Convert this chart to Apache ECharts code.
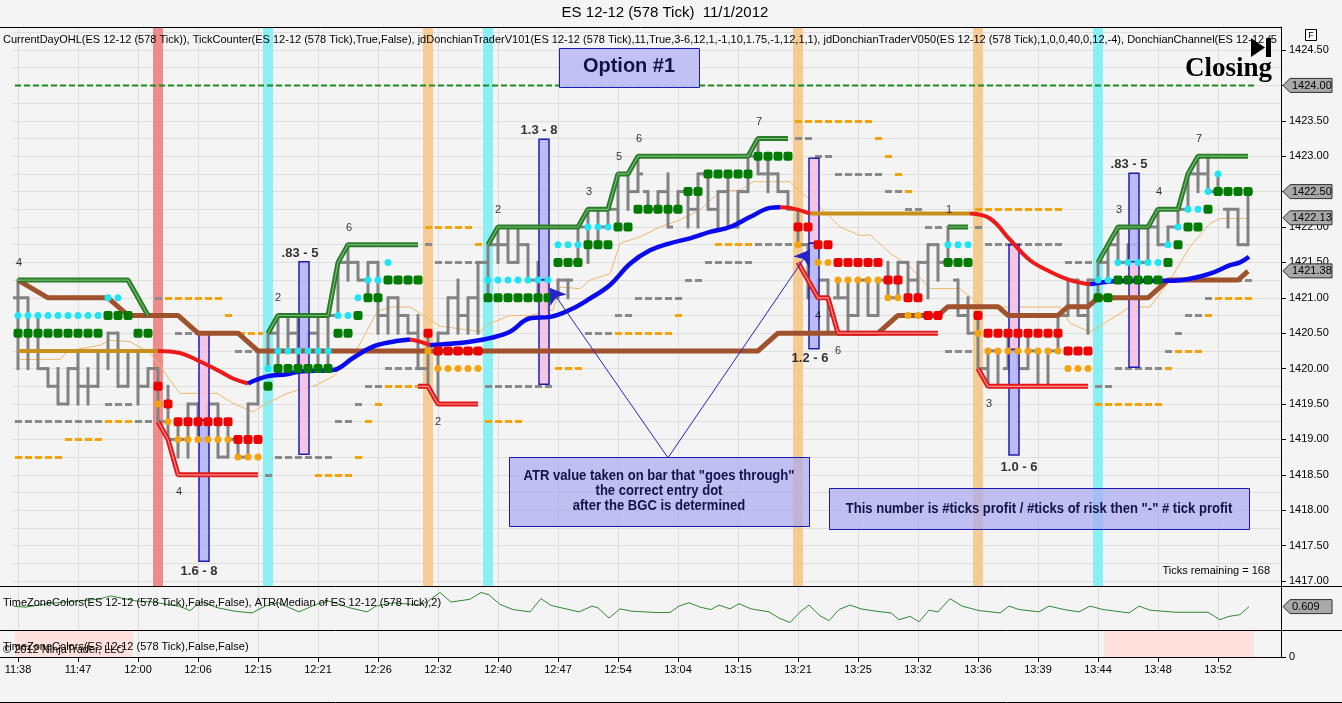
<!DOCTYPE html>
<html><head><meta charset="utf-8">
<script src="https://cdn.jsdelivr.net/npm/echarts@6/dist/echarts.min.js"></script>
<style>html,body{margin:0;padding:0;background:#f4f4f4;}#c{width:1342px;height:703px;}</style>
</head><body><div id="c"></div>
<script>
// ---------------- DATA ----------------
const timeLabels = ['11:38','11:47','12:00','12:06','12:15','12:21','12:26','12:32','12:40','12:47','12:54','13:04','13:15','13:21','13:25','13:32','13:36','13:39','13:44','13:48','13:52'];
const timeTickBars = [0,6,12,18,24,30,36,42,48,54,60,66,72,78,84,90,96,102,108,114,120];
const priceLabels = [1417.0,1417.5,1418.0,1418.5,1419.0,1419.5,1420.0,1420.5,1421.0,1421.5,1422.0,1422.5,1423.0,1423.5,1424.0,1424.5];
const priceGrid = [1417.0,1417.25,1417.5,1417.75,1418.0,1418.25,1418.5,1418.75,1419.0,1419.25,1419.5,1419.75,1420.0,1420.25,1420.5,1420.75,1421.0,1421.25,1421.5,1421.75,1422.0,1422.25,1422.5,1422.75,1423.0,1423.25,1423.5,1423.75,1424.0,1424.25,1424.5,1424.75];

// OHLC per 578-tick bar: [open, high, low, close]
const barOHLC = [
[1421.0,1421.25,1420.0,1421.0],[1421.0,1421.0,1420.0,1420.25],[1420.25,1420.75,1420.0,1420.0],[1420.0,1420.0,1419.75,1419.75],
[1419.75,1420.0,1419.5,1419.5],[1419.5,1420.0,1419.5,1420.0],[1420.0,1420.25,1419.5,1419.75],[1419.75,1420.0,1419.5,1419.75],
[1419.75,1420.25,1419.75,1420.25],[1420.25,1420.5,1420.0,1420.5],[1420.5,1420.5,1419.75,1419.75],[1419.75,1420.25,1419.75,1420.25],
[1420.25,1420.25,1419.5,1419.75],[1419.75,1420.0,1419.75,1420.0],[1420.0,1420.0,1419.25,1419.25],[1419.25,1419.75,1419.0,1419.0],
[1419.0,1419.25,1418.75,1419.0],[1419.0,1419.5,1418.75,1419.5],[1419.5,1419.5,1419.0,1419.0],[1419.0,1419.5,1419.0,1419.5],
[1419.5,1419.5,1418.75,1418.75],[1418.75,1419.25,1418.75,1419.0],[1419.0,1419.0,1418.75,1418.75],[1418.75,1419.5,1418.75,1419.5],
[1419.5,1420.25,1419.5,1420.25],[1420.25,1420.5,1420.0,1420.5],[1420.5,1420.75,1420.0,1420.25],[1420.25,1420.75,1420.25,1420.5],
[1420.5,1420.75,1420.0,1420.25],[1420.25,1420.5,1420.25,1420.5],[1420.5,1420.75,1420.0,1420.25],[1420.25,1420.75,1420.0,1420.75],
[1420.75,1421.5,1420.75,1421.5],[1421.5,1421.75,1421.25,1421.5],[1421.5,1421.5,1421.25,1421.25],[1421.25,1421.5,1421.0,1421.5],
[1421.5,1421.5,1420.5,1420.75],[1420.75,1421.0,1420.5,1421.0],[1421.0,1421.0,1420.5,1420.75],[1420.75,1420.75,1420.5,1420.5],
[1420.5,1420.75,1420.0,1420.0],[1420.0,1420.5,1419.75,1420.25],[1420.25,1420.5,1419.5,1420.5],[1420.5,1421.0,1420.5,1421.0],
[1421.0,1421.25,1420.5,1420.75],[1420.75,1421.0,1420.5,1421.0],[1421.0,1421.5,1420.5,1421.5],[1421.5,1421.75,1421.0,1421.75],
[1421.75,1422.0,1421.5,1421.75],[1421.75,1422.0,1421.5,1421.5],[1421.5,1422.0,1421.5,1421.75],[1421.75,1421.75,1421.25,1421.25],
[1421.25,1421.5,1421.0,1421.25],[1421.25,1421.25,1420.75,1421.0],[1421.0,1421.25,1421.0,1421.25],[1421.25,1421.25,1421.0,1421.25],
[1421.5,1422.0,1421.5,1422.0],[1422.0,1422.25,1421.5,1422.25],[1422.25,1422.25,1421.75,1422.0],[1422.0,1422.25,1422.0,1422.25],
[1422.25,1422.75,1422.0,1422.75],[1422.75,1422.75,1422.25,1422.5],[1422.5,1423.0,1422.5,1422.75],[1422.5,1422.5,1422.25,1422.25],
[1422.25,1422.5,1422.25,1422.5],[1422.5,1422.75,1422.0,1422.0],[1422.25,1422.5,1422.25,1422.5],[1422.5,1422.5,1422.0,1422.25],
[1422.25,1422.75,1422.0,1422.75],[1422.75,1422.75,1422.25,1422.25],[1422.25,1422.5,1422.0,1422.5],[1422.5,1422.75,1422.0,1422.0],
[1422.0,1422.5,1422.0,1422.5],[1422.5,1423.0,1422.5,1423.0],[1423.0,1423.25,1422.75,1422.75],[1422.75,1423.0,1422.5,1422.75],
[1422.75,1422.75,1422.5,1422.5],[1422.5,1422.5,1422.25,1422.25],[1422.25,1422.25,1421.75,1421.75],[1421.75,1421.75,1421.0,1421.0],
[1421.0,1421.25,1421.0,1421.25],[1421.25,1421.25,1420.5,1420.75],[1421.0,1421.25,1421.0,1421.0],[1421.0,1421.25,1420.5,1420.75],
[1420.75,1421.25,1420.75,1421.25],[1421.25,1421.25,1420.75,1420.75],[1420.75,1421.25,1420.75,1421.25],[1421.25,1421.5,1421.0,1421.0],
[1421.0,1421.5,1421.0,1421.5],[1421.5,1421.5,1421.0,1421.25],[1421.25,1421.5,1421.0,1421.5],[1421.5,1421.75,1421.0,1421.75],
[1421.75,1421.75,1421.25,1421.5],[1421.5,1422.0,1421.5,1421.5],[1421.25,1421.25,1420.75,1420.75],[1420.75,1421.0,1420.5,1420.5],
[1420.5,1420.75,1420.0,1420.0],[1420.0,1420.25,1419.75,1420.25],[1420.25,1420.25,1419.75,1419.75],[1420.0,1420.5,1420.0,1420.25],
[1420.25,1420.25,1420.0,1420.0],[1420.0,1420.5,1420.0,1420.25],[1420.25,1420.25,1419.75,1419.75],[1419.75,1420.25,1419.75,1420.25],
[1420.25,1420.75,1420.25,1420.75],[1420.75,1421.25,1420.75,1421.25],[1421.25,1421.25,1420.75,1420.75],[1420.75,1421.25,1420.5,1421.25],
[1421.25,1421.5,1421.0,1421.5],[1421.5,1421.75,1421.25,1421.75],[1421.75,1422.0,1421.5,1421.5],[1421.5,1421.75,1421.5,1421.75],
[1421.75,1422.0,1421.5,1421.5],[1421.5,1422.0,1421.5,1422.0],[1422.0,1422.25,1421.75,1421.75],[1421.75,1422.0,1421.75,1422.0],
[1422.0,1422.25,1422.0,1422.25],[1422.25,1422.75,1422.25,1422.75],[1422.75,1423.0,1422.5,1422.75],[1422.75,1423.0,1422.5,1422.5],
[1422.5,1422.75,1422.5,1422.5],[1422.25,1422.25,1422.0,1422.25],[1422.25,1422.25,1421.75,1421.75],[1421.75,1422.5,1421.75,1422.5]
];

// Donchian upper (green), middle (brown), lower (red) : [bar, price]
const donchianUpper = [
 [[0,1421.25],[11,1421.25],[13,1420.75]],
 [[25,1420.5],[26,1420.75],[31,1420.75],[32,1421.5],[33,1421.75],[40,1421.75]],
 [[47,1421.75],[48,1422.0],[56,1422.0],[57,1422.25],[59,1422.25],[60,1422.75],[61,1422.75],[62,1423.0],[73,1423.0],[74,1423.25],[77,1423.25]],
 [[93,1422.0],[95,1422.0]],
 [[108,1421.5],[110,1422.0],[113,1422.0],[114,1422.25],[116,1422.25],[117,1422.75],[118,1423.0],[123,1423.0]]
];
const donchianMid = [[0,1421.25],[3,1421.0],[9,1421.0],[11,1420.75],[16,1420.75],[18,1420.5],[22,1420.5],[24,1420.25],[74,1420.25],[76,1420.5],[86,1420.5],[88,1420.75],[92,1420.75],[93,1420.875],[98,1420.875],[99,1420.75],[104,1420.75],[105,1420.875],[107,1420.875],[108,1421.0],[113,1421.0],[115,1421.25],[122,1421.25],[123,1421.375]];
const donchianLower = [
 [[14,1419.25],[15,1419.0],[16,1418.5],[24,1418.5]],
 [[40,1419.75],[41,1419.75],[42,1419.5],[46,1419.5]],
 [[78,1421.5],[80,1421.0],[81,1421.0],[82,1420.5],[92,1420.5]],
 [[96,1420.0],[97,1419.75],[107,1419.75]]
];

// Trend average, by state: flat / falling / rising
const avgFlat = [
 [[0,1420.25],[14,1420.25]],
 [[79.2,1422.19],[95.2,1422.19]]
];
const avgFalling = [
 [[14,1420.25],[16.2,1420.22],[18.2,1420.10],[20.2,1419.96],[21.5,1419.86],[23,1419.79]],
 [[39.2,1420.41],[40.2,1420.38],[41.2,1420.33]],
 [[76.2,1422.28],[77.2,1422.27],[79.2,1422.19]],
 [[95.2,1422.19],[97.2,1422.12],[99.2,1421.82],[101.2,1421.53],[103.2,1421.37],[105.2,1421.25],[107.2,1421.19]]
];
const avgRising = [
 [[23,1419.79],[24.9,1419.89],[26.9,1419.92],[28.2,1419.96],[31.5,1419.98],[33.5,1420.15],[35.5,1420.31],[37.5,1420.38],[39.2,1420.41]],
 [[41.2,1420.33],[43.2,1420.35],[45.2,1420.38],[47.2,1420.43],[49.2,1420.52],[51.2,1420.71],[53.2,1420.73],[55.2,1420.83],[57.2,1420.99],[59.2,1421.18],[61.2,1421.48],[63.2,1421.67],[65.2,1421.77],[67.2,1421.84],[69.2,1421.93],[71.2,1422.0],[73.2,1422.14],[75.2,1422.27],[76.2,1422.28]],
 [[107.2,1421.19],[109.2,1421.23],[111.2,1421.24],[115.2,1421.24],[117.2,1421.27],[119.2,1421.34],[121.2,1421.46],[122.2,1421.5],[123.1,1421.58]]
];
const trailLine = [[0.2,1420.13],[4.2,1420.13],[5,1420.25],[8.2,1420.33],[9.2,1420.40],[11.2,1420.38],[13.2,1420.22],[14.2,1420.03],[16.2,1419.65],[19.9,1419.65],[21.5,1419.51],[23.5,1419.39],[24.9,1419.51],[26.9,1419.65],[29.9,1419.77],[31.5,1419.89],[33.5,1420.17],[35.9,1420.8],[37.2,1420.87],[39.2,1420.87],[41.2,1420.69],[42.2,1420.6],[46.2,1420.52],[47.2,1420.64],[49.2,1420.75],[51.2,1420.75],[53.5,1420.83],[54.2,1421.15],[56.2,1421.13],[57.2,1421.25],[59.2,1421.34],[60.2,1421.77],[62.2,1421.86],[64.2,1422.0],[66.2,1422.1],[68.2,1422.24],[70.2,1422.5],[72.2,1422.52],[73.5,1422.64],[77.2,1422.64],[78.2,1422.5],[80.2,1422.28],[82.2,1422.0],[84.2,1421.88],[85.2,1421.89],[87.2,1421.63],[89.2,1421.44],[91.2,1421.13],[94.2,1421.13],[96.2,1420.9],[98.2,1420.87],[104.2,1420.87],[105.2,1420.64],[107.2,1420.52],[109.2,1420.69],[111.2,1420.87],[113.2,1420.87],[115.2,1421.25],[117.2,1421.72],[119.2,1422.05],[120.2,1422.12],[122.9,1422.12]];

// Entry dots as runs [firstBar, lastBar, price]
const cyanDots = [[0,8,1420.75],[9,10,1421.0],[25,25,1420.0],[26,31,1420.25],[32,33,1420.75],[34,34,1421.0],[35,36,1421.25],[37,37,1421.5],[47,53,1421.25],[54,56,1421.75],[57,59,1422.0],[93,95,1421.75],[108,109,1421.25],[110,114,1421.5],[115,115,1421.75],[116,116,1422.0],[117,118,1422.25],[119,119,1422.5],[120,120,1422.75]];
const greenDots = [[0,8,1420.5],[9,11,1420.75],[12,13,1420.5],[25,25,1419.75],[26,31,1420.0],[32,33,1420.5],[34,34,1420.75],[35,36,1421.0],[37,40,1421.25],[47,53,1421.0],[54,56,1421.5],[57,59,1421.75],[60,61,1422.0],[62,66,1422.25],[67,68,1422.5],[69,73,1422.75],[74,77,1423.0],[93,95,1421.5],[108,109,1421.0],[110,114,1421.25],[115,115,1421.5],[116,116,1421.75],[117,118,1422.0],[119,119,1422.25],[120,123,1422.5]];
const redDots = [[14,14,1419.75],[15,15,1419.5],[16,21,1419.25],[22,24,1419.0],[41,41,1420.5],[42,46,1420.25],[78,79,1422.0],[80,81,1421.75],[82,86,1421.5],[87,88,1421.25],[89,90,1421.0],[91,92,1420.75],[96,96,1420.75],[97,104,1420.5],[105,107,1420.25]];
const orangeDots = [[14,14,1419.5],[15,15,1419.25],[16,21,1419.0],[22,24,1418.75],[41,41,1420.25],[42,46,1420.0],[78,78,1421.75],[80,81,1421.5],[82,86,1421.25],[87,88,1421.0],[89,90,1420.75],[96,96,1420.5],[97,104,1420.25],[105,107,1420.0]];

// Level dashes [fromBar, toBar, price]
const grayLevels = [[13.7,14.5,1421.0],[15.7,18.2,1420.5],[21.7,24.2,1420.25],[36.7,40.2,1420.0],[34.7,36.5,1419.75],[8.7,11.5,1419.5],[33.7,34.7,1419.5],[-0.3,8.5,1419.25],[11.7,13.5,1419.25],[31.7,33.5,1419.25],[25.7,31.5,1418.75],[24.7,25.5,1418.5],
 [40.7,41.6,1421.75],[41.7,46.5,1421.5],[46.7,53.5,1419.75],[53.7,56.5,1420.25],[56.7,59.5,1420.5],[59.7,61.5,1420.75],[61.7,66.5,1421.0],[66.7,68.5,1421.25],[68.7,73.5,1421.5],[73.7,77.5,1421.75],[77.7,79.5,1423.25],[79.7,81.5,1423.0],[81.7,86.5,1422.75],
 [86.7,88.5,1422.5],[88.7,90.5,1422.25],[90.7,92.5,1422.0],[95.7,96.5,1422.0],[96.7,104.5,1421.75],[104.7,107.5,1421.5],[119.7,123.5,1421.25],[118.7,119.5,1421.0],[116.7,118.5,1420.75],[115.7,116.5,1420.5],[92.7,95.5,1420.25],[114.7,115.5,1420.25],[109.7,114.5,1420.0],[107.7,109.5,1419.75]];
const orangeLevels = [[14.7,20.5,1421.0],[20.7,21.5,1420.75],[22,24.5,1420.5],[36.7,40.5,1419.75],[35.7,36.5,1419.5],[8.7,11.5,1419.25],[34.7,35.5,1419.25],[4.7,8.5,1419.0],[-0.3,4.5,1418.75],[33.7,34.5,1418.75],[29.7,33.5,1418.5],
 [40.7,45.5,1422.0],[45.7,46.5,1421.75],[46.7,50.5,1419.25],[53.7,56.5,1420.0],[56.7,57.5,1420.25],[59.7,65.5,1420.5],[65.7,66.5,1420.75],[69.7,73.5,1421.75],[77.7,85.5,1423.5],
 [85.7,86.5,1423.25],[86.7,87.5,1423.0],[87.7,88.5,1422.75],[88.7,89.5,1422.5],[95.7,104.5,1422.25],[119.7,123.5,1421.0],[118.7,119.5,1420.75],[115.7,118.5,1420.25],[114.7,115.5,1420.0],[107.7,114.5,1419.5]];

// Signal bars (vertical bands) and their kind
const signalBars = [14,25,41,47,78,96,108];
const signalKind = ['short','long','flat','long','flat','flat','long'];

// Trade boxes: centre bar, top, entry, bottom, direction, label
const tradeBar = [18.6,28.6,52.6,79.6,99.6,111.6];
const tradeTop = [1420.5,1421.51,1423.24,1422.97,1421.75,1422.76];
const tradeEntry = [1419.27,1420.25,1421.25,1421.77,1420.27,1421.51];
const tradeBottom = [1417.28,1418.79,1419.78,1420.28,1418.78,1420.02];
const tradeDir = ['short','long','long','short','short','long'];
const tradeText = ['1.6 - 8','.83 - 5','1.3 - 8','1.2 - 6','1.0 - 6','.83 - 5'];
const tradeTextBar = [18.1,28.2,52.1,79.2,100.1,111.1];
const tradeTextPrice = [1417.14,1421.63,1423.36,1420.14,1418.61,1422.88];

// Swing counters
const countText = ['4','4','2','6','2','2','3','5','6','7','4','6','1','3','3','4','7'];
const countBar = [0.1,16.1,26,33.1,42,48,57.1,60.1,62.1,74.1,80,82,93.1,97.1,110.1,114.1,118.1];
const countPrice = [1421.49,1418.26,1421.0,1421.99,1419.25,1422.24,1422.49,1422.99,1423.24,1423.48,1420.74,1420.25,1422.24,1419.5,1422.24,1422.49,1423.24];

// Arrows from the ATR note to the entry points
const arrowFrom = [65,1418.74];
const arrowTo = [[53.2,1421.14],[79.2,1421.68]];

const closingLevel = 1424.0;
const closingFrom = -0.3, closingTo = 123.7;
const lastMarkers = ['1424.00','1422.50','1422.13','1421.38'];

// ATR (median, 2) lower panel
const atrPoints = [[-0.4,0.612],[0.8,0.602],[2.9,0.648],[4.6,0.671],[6.7,0.695],[8.0,0.709],[9.3,0.755],[10.6,0.718],[11.9,0.685],[13.6,0.671],[14.9,0.639],[16.1,0.616],[17.2,0.555],[18.3,0.676],[20.0,0.592],[21.7,0.546],[23.4,0.523],[24.7,0.616],[26.0,0.662],[28.1,0.537],[29.8,0.639],[31.1,0.685],[33.2,0.592],[34.9,0.537],[35.8,0.616],[37.5,0.662],[40.1,0.630],[40.9,0.671],[42.2,0.802],[43.3,0.671],[45.2,0.709],[46.3,0.802],[47.1,0.769],[48.2,0.639],[49.5,0.569],[51.2,0.537],[52.3,0.718],[53.3,0.625],[56.1,0.537],[57.4,0.616],[58.0,0.592],[59.1,0.453],[60.2,0.578],[61.4,0.546],[64.0,0.527],[65.2,0.53],[66.1,0.616],[67.1,0.662],[68.2,0.602],[69.3,0.569],[70.1,0.630],[71.2,0.578],[72.1,0.648],[73.3,0.578],[75.1,0.537],[76.1,0.453],[77.2,0.392],[78.3,0.546],[79.1,0.630],[80.2,0.485],[81.1,0.416],[82.1,0.569],[83.2,0.630],[84.3,0.578],[85.8,0.546],[87.3,0.523],[88.1,0.43],[89.2,0.476],[90.1,0.402],[91.1,0.560],[92.0,0.537],[93.2,0.718],[94.4,0.616],[96.1,0.555],[98.2,0.523],[99.1,0.616],[100.1,0.569],[102.1,0.537],[103.1,0.616],[104.6,0.569],[106.1,0.537],[107.2,0.616],[108.5,0.569],[111.1,0.523],[112.1,0.616],[113.2,0.560],[115.8,0.532],[119.0,0.532],[120.2,0.430],[121.1,0.476],[122.2,0.499],[123.1,0.609]];
const atrLast = 0.609;
// Time zone colour ranges (bottom panel)
const tzRanges = [[-0.3,11.5],[108.6,123.6]];

// ---------------- CHART ----------------
const FONT = '"Liberation Sans", Arial, sans-serif';
const GRIDC = '#dedede';
const BLUE_FILL = 'rgba(180,180,245,0.88)', PINK_FILL = 'rgba(245,190,225,0.88)', NAVY = '#1c1cb4';
const bandColor = {short:'rgba(240,128,128,0.9)', long:'rgba(128,240,246,0.9)', flat:'rgba(246,200,138,0.9)'};

const chart = echarts.init(document.getElementById('c'), null, {width:1342, height:703});
const expand = runs => { const out = []; runs.forEach(r => { for (let i = r[0]; i <= r[1]; i++) out.push([i, r[2]]); }); return out; };
const P = {xAxisIndex:0, yAxisIndex:0};
const series = [];
const ln = (data, color, width, z, extra) => Object.assign({type:'line', data, symbol:'none', showSymbol:false, silent:true, lineStyle:{color, width}, z}, P, extra || {});

// bands
series.push(Object.assign({type:'line', data:[[0,1416]], symbol:'none', lineStyle:{opacity:0}, z:1, silent:true,
  markArea:{silent:true, data: signalBars.map((b,k) => [{xAxis:b-0.5, itemStyle:{color:bandColor[signalKind[k]]}}, {xAxis:b+0.5}])}}, P));
// level dashes
series.push(Object.assign({type:'lines', coordinateSystem:'cartesian2d', z:2, silent:true, data: grayLevels.map(d => ({coords:[[d[0],d[2]],[d[1],d[2]]]})), lineStyle:{color:'#8a8a8a', width:3, type:[7,3], opacity:1}}, P));
series.push(Object.assign({type:'lines', coordinateSystem:'cartesian2d', z:2, silent:true, data: orangeLevels.map(d => ({coords:[[d[0],d[2]],[d[1],d[2]]]})), lineStyle:{color:'#f5a30a', width:3, type:[7,3], opacity:1}}, P));
// trail line
series.push(ln(trailLine, '#f0b868', 1, 3));
// bars
series.push(Object.assign({type:'custom', z:4, clip:true, silent:true, encode:{x:0, y:[1,2,3,4]},
  data: barOHLC.map((b,i) => [i, b[0], b[1], b[2], b[3]]),
  renderItem(params, api) {
    const i = api.value(0);
    const po = api.coord([i, api.value(1)]), ph = api.coord([i, api.value(2)]), pl = api.coord([i, api.value(3)]), pc = api.coord([i, api.value(4)]);
    const half = api.size([1, 0])[0] / 2;
    const st = {stroke:'#828282', lineWidth:3};
    return {type:'group', children:[
      {type:'line', shape:{x1:ph[0], y1:ph[1]-1.5, x2:pl[0], y2:pl[1]+1.5}, style:st},
      {type:'line', shape:{x1:po[0]-half, y1:po[1], x2:po[0], y2:po[1]}, style:st},
      {type:'line', shape:{x1:pc[0], y1:pc[1], x2:pc[0]+half, y2:pc[1]}, style:st}
    ]};
  }}, P));
// trade boxes
series.push(Object.assign({type:'custom', z:5, clip:true, silent:true, encode:{x:0, y:[1,2,3]},
  data: tradeBar.map((b,k) => [b, tradeTop[k], tradeEntry[k], tradeBottom[k]]),
  renderItem(params, api) {
    const k = params.dataIndex, b = api.value(0);
    const a = api.coord([b-0.5, api.value(1)]), m = api.coord([b+0.5, api.value(2)]), c = api.coord([b-0.5, api.value(3)]);
    const up = tradeDir[k] === 'long' ? BLUE_FILL : PINK_FILL, dn = tradeDir[k] === 'long' ? PINK_FILL : BLUE_FILL;
    return {type:'group', children:[
      {type:'rect', shape:{x:a[0], y:a[1], width:m[0]-a[0], height:m[1]-a[1]}, style:{fill:up, stroke:NAVY, lineWidth:1.5}},
      {type:'rect', shape:{x:a[0], y:m[1], width:m[0]-a[0], height:c[1]-m[1]}, style:{fill:dn, stroke:NAVY, lineWidth:1.5}}
    ]};
  }}, P));
// donchian
series.push(ln(donchianMid, '#a0522d', 5, 6));
donchianUpper.forEach(s => { series.push(ln(s, '#2a7a2a', 5, 6)); series.push(ln(s, '#6fbf6f', 1.2, 6)); });
donchianLower.forEach(s => { series.push(ln(s, '#e01818', 5, 6)); series.push(ln(s, '#ff9090', 1.2, 6)); });
// closing level
series.push(ln([[closingFrom, closingLevel],[closingTo, closingLevel]], '#1f8a1f', 2, 6, {lineStyle:{color:'#1f8a1f', width:2, type:[6,3]}}));
// trend average
avgFlat.forEach(s => series.push(ln(s, '#c8901a', 4, 7)));
avgFalling.forEach(s => series.push(ln(s, '#ee1a1a', 4, 7, {smooth:0.4})));
avgRising.forEach(s => series.push(ln(s, '#0a0aee', 4.5, 7, {smooth:0.4})));
// dots
const dot = (runs, color, sym, size) => Object.assign({type:'scatter', z:8, silent:true, data:expand(runs), symbol:sym, symbolSize:size, itemStyle:{color, opacity:1}}, P);
series.push(dot(greenDots, '#007a00', 'roundRect', 9));
series.push(dot(redDots, '#ee0000', 'roundRect', 9));
series.push(dot(cyanDots, '#1ee4f4', 'circle', 7));
series.push(dot(orangeDots, '#f5a30a', 'circle', 7));
// labels
series.push(Object.assign({type:'scatter', z:9, silent:true, symbolSize:0,
  data: countText.map((t,k) => ({name:t, value:[countBar[k], countPrice[k]]})),
  label:{show:true, position:'inside', formatter:'{b}', color:'#000', fontSize:11, fontFamily:FONT}}, P));
series.push(Object.assign({type:'scatter', z:9, silent:true, symbolSize:0,
  data: tradeText.map((t,k) => ({name:t, value:[tradeTextBar[k], tradeTextPrice[k]]})),
  label:{show:true, position:'inside', formatter:'{b}', color:'#000', fontSize:13, fontWeight:'bold', fontFamily:FONT}}, P));
// arrows
series.push(Object.assign({type:'lines', coordinateSystem:'cartesian2d', z:10, silent:true,
  data: arrowTo.map(t => ({coords:[arrowFrom, t]})), symbol:['none','arrow'], symbolSize:[4,15],
  lineStyle:{color:'#2424c8', width:1, opacity:1}}, P));
// ATR
series.push({type:'line', xAxisIndex:1, yAxisIndex:2, data:atrPoints, symbol:'none', silent:true, lineStyle:{color:'#2e8b2e', width:1}, z:3});
// time zone colours
series.push({type:'line', xAxisIndex:2, yAxisIndex:3, data:[[0,0.5]], symbol:'none', lineStyle:{opacity:0}, silent:true,
  markArea:{silent:true, itemStyle:{color:'rgba(255,222,218,0.9)'}, data: tzRanges.map(r => [{xAxis:r[0]}, {xAxis:r[1]}])}});

const xAxes = [0,1,2].map(g => ({gridIndex:g, type:'value', min:-0.5, max:126.3,
  axisLine:{show:g===2, onZero:false, lineStyle:{color:'#000'}},
  axisTick:{show:g===2, customValues:timeTickBars, length:5, lineStyle:{color:'#000'}},
  axisLabel:{show:g===2, customValues:timeTickBars, formatter:v => timeLabels[timeTickBars.indexOf(Math.round(v))], color:'#000', fontSize:11, fontFamily:FONT, margin:7},
  splitLine:{show:true, lineStyle:{color:GRIDC, width:1}}}));
const yAxes = [
 {gridIndex:0, type:'value', position:'right', min:1416.929, max:1424.825,
  axisLine:{show:true, onZero:false, lineStyle:{color:'#000'}}, axisTick:{show:true, customValues:priceLabels, length:5, lineStyle:{color:'#000'}},
  axisLabel:{show:true, customValues:priceLabels, formatter:v => v.toFixed(2), color:'#000', fontSize:11, fontFamily:FONT, margin:8}, splitLine:{show:false}},
 {gridIndex:0, type:'value', position:'right', min:1416.929, max:1424.825,
  axisLine:{show:false, onZero:false}, axisTick:{show:false, customValues:priceGrid}, axisLabel:{show:false}, splitLine:{show:true, lineStyle:{color:GRIDC, width:1}}},
 {gridIndex:1, type:'value', position:'right', min:0.29, max:0.89, axisLine:{show:true, onZero:false, lineStyle:{color:'#000'}}, axisTick:{show:false}, axisLabel:{show:false}, splitLine:{show:false}},
 {gridIndex:2, type:'value', position:'right', min:0, max:1, axisLine:{show:true, onZero:false, lineStyle:{color:'#000'}},
  axisTick:{show:true, customValues:[0], length:5, lineStyle:{color:'#000'}}, axisLabel:{show:true, customValues:[0], color:'#000', fontSize:11, fontFamily:FONT, margin:8}, splitLine:{show:false}}
];

chart.setOption({
  animation:false, backgroundColor:'#f4f4f4',
  grid:[
    {left:13, top:27, width:1268, height:559, outerBoundsMode:'none', containLabel:false},
    {left:13, top:586, width:1268, height:44, outerBoundsMode:'none', containLabel:false},
    {left:13, top:630, width:1268, height:27, outerBoundsMode:'none', containLabel:false}
  ],
  xAxis:xAxes, yAxis:yAxes, series
});

// ---------------- overlays ----------------
const G = [];
const L = (x1,y1,x2,y2) => ({type:'line', z:200, silent:true, shape:{x1,y1,x2,y2}, style:{stroke:'#000', lineWidth:1}});
const T = (text, x, y, font, extra, z) => ({type:'text', z:z || 210, silent:true, style:Object.assign({text, x, y, font, fill:'#000', align:'left', verticalAlign:'middle'}, extra || {})});
// narrow bold note text (condensed horizontally)
const NT = (text, cx, y) => ({type:'text', z:212, silent:true, x:cx, y:y, scaleX:0.87, scaleY:1,
  style:{text, x:0, y:0, font:'bold 15px ' + FONT, fill:'#12124a', align:'center', verticalAlign:'middle'}});
G.push(L(0,27.5,1281,27.5), L(1281.5,27,1281.5,657), L(0,586.5,1342,586.5), L(0,630.5,1342,630.5), L(0,657.5,1286,657.5), L(0,702.5,1342,702.5));
G.push(T('ES 12-12 (578 Tick)  11/1/2012', 665, 13, '15px ' + FONT, {align:'center'}));
G.push(T('CurrentDayOHL(ES 12-12 (578 Tick)), TickCounter(ES 12-12 (578 Tick),True,False), jdDonchianTraderV101(ES 12-12 (578 Tick),11,True,3-6,12,1,-1,10,1.75,-1,12,1,1), jdDonchianTraderV050(ES 12-12 (578 Tick),1,0,0,40,0,12,-4), DonchianChannel(ES 12-12 (578 Tick),12)', 3, 40, '11px ' + FONT, {width:1277, overflow:'truncate', ellipsis:''}));
// Closing symbol
G.push({type:'polygon', z:210, silent:true, shape:{points:[[1251,38],[1265,47.5],[1251,57]]}, style:{fill:'#000'}});
G.push({type:'rect', z:210, silent:true, shape:{x:1266, y:38, width:5, height:19}, style:{fill:'#000'}});
G.push(T('Closing', 1272, 69, 'bold 27px "Liberation Serif", "Times New Roman", serif', {align:'right'}));
G.push({type:'rect', z:210, silent:true, shape:{x:1305.5, y:29.5, width:11, height:11}, style:{fill:'#fff', stroke:'#000', lineWidth:1}});
G.push(T('F', 1311, 35.5, '9px ' + FONT, {align:'center'}, 211));
// Option box
G.push({type:'rect', z:205, silent:true, shape:{x:559.5, y:48.5, width:140, height:39}, style:{fill:'rgba(190,190,245,0.95)', stroke:NAVY, lineWidth:1}});
G.push(T('Option #1', 629, 66, 'bold 20px ' + FONT, {align:'center', fill:'#12124a'}));
// ATR note
G.push({type:'rect', z:205, silent:true, shape:{x:509.5, y:457.5, width:300, height:69}, style:{fill:'rgba(170,170,240,0.72)', stroke:NAVY, lineWidth:1}});
G.push(NT('ATR value taken on bar that "goes through"', 659, 476));
G.push(NT('the correct entry dot', 659, 491));
G.push(NT('after the BGC is determined', 659, 506));
// profit note
G.push({type:'rect', z:205, silent:true, shape:{x:829.5, y:488.5, width:420, height:41}, style:{fill:'rgba(170,170,240,0.72)', stroke:NAVY, lineWidth:1}});
G.push(NT('This number is #ticks profit / #ticks of risk then "-" # tick profit', 1039, 509));
G.push(T('Ticks remaining = 168', 1270, 571, '11px ' + FONT, {align:'right'}));
// panel titles
G.push(T('TimeZoneColors(ES 12-12 (578 Tick),False,False), ATR(Median of ES 12-12 (578 Tick),2)', 3, 603, '11px ' + FONT));
G.push(T('TimeZoneColors(ES 12-12 (578 Tick),False,False)', 3, 647, '11px ' + FONT));
G.push(T('\u00a9 2012 NinjaTrader, LLC', 3, 650, '11px ' + FONT));
// price markers on the right axis
const marker = (y, text) => {
  G.push({type:'polygon', z:215, silent:true, shape:{points:[[1283,y],[1290,y-7],[1332,y-7],[1332,y+7],[1290,y+7]]}, style:{fill:'#a9a9a9', stroke:'#303030', lineWidth:1}});
  G.push(T(text, 1292, y+0.5, '11px ' + FONT, {}, 216));
};
lastMarkers.forEach(v => marker(chart.convertToPixel({yAxisIndex:0}, parseFloat(v)), v));
marker(chart.convertToPixel({yAxisIndex:2}, atrLast), atrLast.toFixed(3));
chart.setOption({graphic:G});
</script></body></html>
